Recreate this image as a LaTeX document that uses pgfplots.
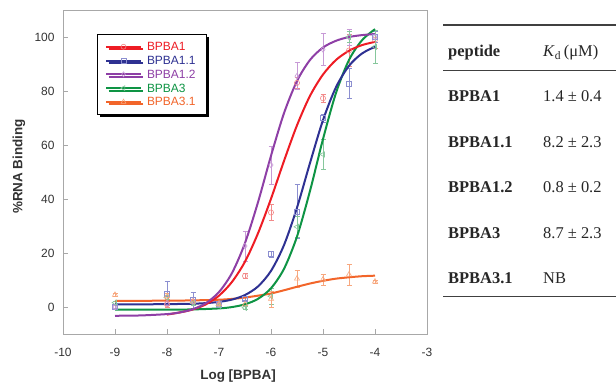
\documentclass[border=0pt]{standalone}
\usepackage{fontspec}
\setmainfont{Liberation Sans}
\newfontfamily\timesfont{Liberation Serif}
\usepackage{pgfplots}
\pgfplotsset{compat=1.18}
\usepackage{pgfplotstable}
\usetikzlibrary{shadows}

\definecolor{cred}{HTML}{EE1C24}
\definecolor{credL}{HTML}{F28A8A}
\definecolor{cblue}{HTML}{2E3192}
\definecolor{cblueL}{HTML}{8C8FD0}
\definecolor{cpurp}{HTML}{8E3FA6}
\definecolor{cpurpL}{HTML}{C79AD6}
\definecolor{cgreen}{HTML}{0E9444}
\definecolor{cgreenL}{HTML}{86C79C}
\definecolor{corange}{HTML}{F2652A}
\definecolor{corangeL}{HTML}{F7A77E}
\definecolor{axisgray}{HTML}{A8A8A8}
\definecolor{tickgray}{HTML}{333333}

% measured points: x y err
\pgfplotstableread{
x y e
-8 1 1
-7.5 2 1
-7 1 0.5
-6.5 11.5 1
-6 35 3
-5.5 83 2
-5 77.3 1.5
-4.5 95 6
-4 99 3
}\redpts
\pgfplotstableread{
x y e
-9 0 0.5
-8 5 4.5
-7.5 2.5 3
-7 1 0.5
-6.5 3 0.5
-6 19.6 1
-5.5 35.3 10
-5 70 1.5
-4.5 82.8 5.5
-4 100 2
}\bluepts
\pgfplotstableread{
x y e
-9 0 0.5
-8 1.5 1
-7.5 2 1
-7 1 0.5
-6.5 22.6 5.5
-6 52.6 7
-5.5 85.5 5
-5 95.4 6
-4.5 100 3
-4 100 1
}\purppts
\pgfplotstableread{
x y e
-9 1.6 0.5
-8 3.5 1
-7.5 1.5 1
-7 0.5 0.5
-6.5 -0.3 0.5
-6 4 3
-5.5 29.7 4
-5 56.5 5.5
-4.5 100 2
-4 96.4 6
}\greenpts
\pgfplotstableread{
x y e
-9 4.5 0.5
-8 4 1
-7.5 2 1
-7 1 0.5
-6.5 1 0.5
-6 3 3
-5.5 10.5 3
-5 10.2 2
-4.5 12 4
-4 9.4 0.5
}\orangepts

% fitted curves
\pgfplotstableread{
x y
-8 -2.8
-7.75 -2.0
-7.5 -0.9
-7.25 1.0
-7 4.2
-6.75 9.3
-6.5 16.8
-6.25 27.3
-6 40.1
-5.75 54.1
-5.5 67.3
-5.25 78.2
-5 86.1
-4.75 91.5
-4.5 94.9
-4.25 97.0
-4 98.2
}\redfit
\pgfplotstableread{
x y
-9 1.0
-8.5 1.0
-8 1.06
-7.5 1.22
-7.25 1.45
-7 1.89
-6.75 2.75
-6.5 4.44
-6.25 7.62
-6 13.38
-5.75 22.94
-5.5 36.8
-5.25 53.34
-5 69.22
-4.75 81.41
-4.5 89.32
-4.25 93.89
-4 96.37
}\bluefit
\pgfplotstableread{
x y
-9 -3.25
-8.5 -3.12
-8 -2.62
-7.75 -1.99
-7.5 -0.79
-7.25 1.46
-7 5.56
-6.75 12.6
-6.5 23.7
-6.25 38.8
-6 56.0
-5.75 71.8
-5.5 83.7
-5.25 91.5
-5 96.1
-4.75 98.6
-4.5 100.0
-4.25 100.7
-4 101.1
}\purpfit
\pgfplotstableread{
x y
-9 -1.0
-8.5 -0.99
-8 -0.97
-7.5 -0.89
-7 -0.52
-6.75 -0.02
-6.5 1.0
-6.25 3.02
-6 6.95
-5.75 14.14
-5.5 26.1
-5.25 43.0
-5 62.2
-4.75 79.3
-4.5 91.5
-4.25 98.8
-4 102.9
}\greenfit
\pgfplotstableread{
x y
-9 2.3
-8.5 2.3
-8 2.35
-7.5 2.45
-7 2.7
-6.75 3.0
-6.5 3.5
-6.25 4.2
-6 5.0
-5.75 6.2
-5.5 7.5
-5.25 8.7
-5 9.7
-4.75 10.5
-4.5 11.0
-4.25 11.4
-4 11.6
}\orangefit

\begin{document}
\begin{tikzpicture}[x=1bp,y=1bp]
\path[use as bounding box] (0,0) rectangle (616,381);
\begin{axis}[
  at={(63bp,47bp)}, anchor=south west,
  scale only axis, width=364bp, height=324bp,
  xmin=-10, xmax=-3, ymin=-10, ymax=110,
  xtick={-10,-9,-8,-7,-6,-5,-4,-3},
  ytick={0,20,40,60,80,100},
  tick align=inside, tick pos=left,
  major tick length=5bp,
  axis line style={draw=axisgray, line width=0.8bp},
  tick style={draw=axisgray, line width=0.7bp},
  /pgf/number format/assume math mode=true,
  ticklabel style={font=\fontsize{12}{14}\selectfont, text=tickgray},
  xticklabel style={yshift=-11bp},
  yticklabel style={xshift=-5bp},
  every axis x label/.style={at={(axis description cs:0.481,-0.13)}, anchor=center},
  every axis y label/.style={at={(axis description cs:-0.121,0.517)}, anchor=center, rotate=90},
  label style={font=\bfseries\fontsize{13.5}{16}\selectfont, text=tickgray},
  xlabel={Log [BPBA]},
  ylabel={\%RNA Binding},
  legend style={at={(axis description cs:0.0934,0.926)}, anchor=north west,
    draw=black, line width=1bp, fill=white,
    drop shadow={shadow xshift=2.5bp, shadow yshift=-2.5bp, fill=black, opacity=1},
    font=\fontsize{12}{13}\selectfont,
    inner xsep=8bp, inner ysep=6.5bp, row sep=2.3bp,
    /tikz/every odd column/.append style={column sep=3bp},
    nodes={inner xsep=2.5bp, inner ysep=1.2bp, text height=8.6bp, text depth=0.5bp}},
  legend cell align=left,
  legend image code/.code={\draw[mark repeat=2,mark phase=2,#1] plot coordinates {(0bp,0bp)(17bp,0bp)(34bp,0bp)};},
]
\addlegendimage{draw=cred, line width=2bp, mark=o, mark size=2.5bp, mark options={draw=credL, fill=none, line width=0.6bp}}
\addlegendentry{\textcolor{cred}{BPBA1}}
\addlegendimage{draw=cblue, line width=2bp, mark=square, mark size=2.5bp, mark options={draw=cblueL, fill=none, line width=0.6bp}}
\addlegendentry{\textcolor{cblue}{BPBA1.1}}
\addlegendimage{draw=cpurp, line width=2bp, mark=diamond, mark size=2.5bp, mark options={draw=cpurpL, fill=none, line width=0.6bp}}
\addlegendentry{\textcolor{cpurp}{BPBA1.2}}
\addlegendimage{draw=cgreen, line width=2bp, mark=triangle, mark size=2.8bp, mark options={draw=cgreenL, fill=none, line width=0.6bp, rotate=90}}
\addlegendentry{\textcolor{cgreen}{BPBA3}}
\addlegendimage{draw=corange, line width=2bp, mark=triangle, mark size=2.8bp, mark options={draw=corangeL, fill=none, line width=0.6bp}}
\addlegendentry{\textcolor{corange}{BPBA3.1}}

% measured points
\addplot[forget plot, only marks, mark=o, mark size=2.6bp, mark options={draw=credL, line width=0.6bp},
  error bars/.cd, y dir=both, y explicit, error bar style={credL, line width=0.5bp},
  error mark options={rotate=90, mark size=2.5bp, credL}]
  table[x=x, y=y, y error=e] {\redpts};
\addplot[forget plot, only marks, mark=square, mark size=2.6bp, mark options={draw=cblueL, line width=0.6bp},
  error bars/.cd, y dir=both, y explicit, error bar style={cblueL, line width=0.5bp},
  error mark options={rotate=90, mark size=2.5bp, cblueL}]
  table[x=x, y=y, y error=e] {\bluepts};
\addplot[forget plot, only marks, mark=diamond, mark size=2.8bp, mark options={draw=cpurpL, line width=0.6bp},
  error bars/.cd, y dir=both, y explicit, error bar style={cpurpL, line width=0.5bp},
  error mark options={rotate=90, mark size=2.5bp, cpurpL}]
  table[x=x, y=y, y error=e] {\purppts};
\addplot[forget plot, only marks, mark=triangle, mark size=3bp, mark options={draw=cgreenL, line width=0.6bp, rotate=90},
  error bars/.cd, y dir=both, y explicit, error bar style={cgreenL, line width=0.5bp},
  error mark options={rotate=90, mark size=2.5bp, cgreenL}]
  table[x=x, y=y, y error=e] {\greenpts};
\addplot[forget plot, only marks, mark=triangle, mark size=3bp, mark options={draw=corangeL, line width=0.6bp},
  error bars/.cd, y dir=both, y explicit, error bar style={corangeL, line width=0.5bp},
  error mark options={rotate=90, mark size=2.5bp, corangeL}]
  table[x=x, y=y, y error=e] {\orangepts};

% fitted curves
\addplot[forget plot, no marks, smooth, draw=corange, line width=2bp] table[x=x,y=y] {\orangefit};
\addplot[forget plot, no marks, smooth, draw=cgreen, line width=2bp] table[x=x,y=y] {\greenfit};
\addplot[forget plot, no marks, smooth, draw=cblue, line width=2bp] table[x=x,y=y] {\bluefit};
\addplot[forget plot, no marks, smooth, draw=cred, line width=2bp] table[x=x,y=y] {\redfit};
\addplot[forget plot, no marks, smooth, draw=cpurp, line width=2bp] table[x=x,y=y] {\purpfit};
\end{axis}

% table
\begin{scope}[every node/.style={font=\timesfont\fontsize{16.5}{18}\selectfont, text=black!85, inner sep=0pt, anchor=base west}]
\draw[black!75, line width=1.3bp] (443,356) -- (616,356);
\draw[black!75, line width=1.3bp] (443,310.3) -- (616,310.3);
\draw[black!75, line width=1.3bp] (443,84.3) -- (616,84.3);
\node at (448,324.3) {\bfseries peptide};
\node at (543,324.3) {\textit{K}\textsubscript{d}\,(μM)};
\node at (448,279.3) {\bfseries BPBA1};
\node at (543,279.3) {1.4 ± 0.4};
\node at (448,233.7) {\bfseries BPBA1.1};
\node at (543,233.7) {8.2 ± 2.3};
\node at (448,188.7) {\bfseries BPBA1.2};
\node at (543,188.7) {0.8 ± 0.2};
\node at (448,142.7) {\bfseries BPBA3};
\node at (543,142.7) {8.7 ± 2.3};
\node at (448,97.7) {\bfseries BPBA3.1};
\node at (543,97.7) {NB};
\end{scope}
\end{tikzpicture}
\end{document}
